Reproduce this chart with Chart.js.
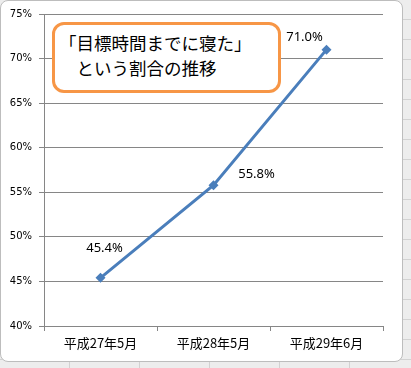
<!DOCTYPE html>
<html lang="ja">
<head>
<meta charset="utf-8">
<script src="https://cdn.jsdelivr.net/npm/chart.js@4"></script>
<style>
  html, body {
    margin: 0;
    padding: 0;
  }
  body {
    width: 411px;
    height: 368px;
    overflow: hidden;
    position: relative;
    background-color: #ededed;
    background-image:
      repeating-linear-gradient(to bottom, transparent 0, transparent 19px, #d2d2d2 19px, #d2d2d2 20px),
      repeating-linear-gradient(to right, transparent 0, transparent 69px, #d2d2d2 69px, #d2d2d2 70px);
  }
  .frame {
    position: absolute;
    left: 0;
    top: 0;
    width: 403px;
    height: 362px;
    box-sizing: border-box;
    border: 1px solid #bdbdbd;
    border-radius: 8px;
    background: #fff;
  }
  #chart {
    position: absolute;
    left: 0;
    top: 0;
  }
  .title-box {
    position: absolute;
    left: 52px;
    top: 22px;
    width: 229px;
    height: 71px;
    box-sizing: border-box;
    border: 3px solid #f79646;
    border-radius: 12px;
    background: #fff;
    padding: 5px 0 0 4px;
    font-family: "Noto Sans CJK JP", sans-serif;
    font-size: 17.5px;
    line-height: 25px;
    color: #000;
    white-space: pre;
  }
</style>
</head>
<body>
<div class="frame"></div>
<canvas id="chart" width="400" height="360"></canvas>
<div class="title-box">「目標時間までに寝た」
　という割合の推移</div>

<script>
const periods = ["平成27年5月", "平成28年5月", "平成29年6月"];
const rates = [45.4, 55.8, 71.0];
const yMin = 40;
const yMax = 75;
const yStep = 5;

const lineBlue = "#4a7ebb";
const axisGray = "#868686";

// where each value label sits relative to its point
const labelOffsets = [
  [4, -30],
  [43, -11],
  [-22, -12],
];

const valueLabels = {
  id: "valueLabels",
  afterDatasetsDraw(chart) {
    const ctx = chart.ctx;
    const points = chart.getDatasetMeta(0).data;
    ctx.save();
    ctx.font = '13px "Noto Sans", sans-serif';
    ctx.fillStyle = "#000";
    ctx.textAlign = "center";
    ctx.textBaseline = "middle";
    points.forEach((p, i) => {
      const [dx, dy] = labelOffsets[i];
      ctx.fillText(rates[i].toFixed(1) + "%", p.x + dx, p.y + dy);
    });
    ctx.restore();
  },
};

new Chart(document.getElementById("chart"), {
  type: "line",
  data: {
    labels: periods,
    datasets: [
      {
        data: rates,
        borderColor: lineBlue,
        backgroundColor: lineBlue,
        borderWidth: 3,
        tension: 0,
        fill: false,
        pointStyle: "rectRot",
        pointRadius: 5,
        pointBorderWidth: 0,
        pointBackgroundColor: lineBlue,
      },
    ],
  },
  options: {
    responsive: false,
    animation: false,
    layout: {
      padding: { top: 14, right: 17, left: 0, bottom: 0 },
    },
    plugins: {
      legend: { display: false },
      tooltip: { enabled: false },
    },
    scales: {
      x: {
        offset: true,
        grid: {
          offset: true,
          drawOnChartArea: false,
          drawTicks: true,
          tickLength: 5,
          color: axisGray,
        },
        border: { color: axisGray },
        ticks: {
          color: "#000",
          padding: 4,
          maxRotation: 0,
          font: { family: '"Noto Sans CJK JP", sans-serif', size: 13 },
        },
        afterFit(scale) {
          scale.height = 34;
        },
      },
      y: {
        min: yMin,
        max: yMax,
        grid: {
          color: axisGray,
          tickLength: 5,
        },
        border: { color: axisGray },
        ticks: {
          stepSize: yStep,
          color: "#000",
          padding: 7,
          font: { family: '"DejaVu Sans", sans-serif', size: 10 },
          callback: (v) => v + "%",
        },
        afterFit(scale) {
          scale.width = 44;
        },
      },
    },
  },
  plugins: [valueLabels],
});
</script>
</body>
</html>
